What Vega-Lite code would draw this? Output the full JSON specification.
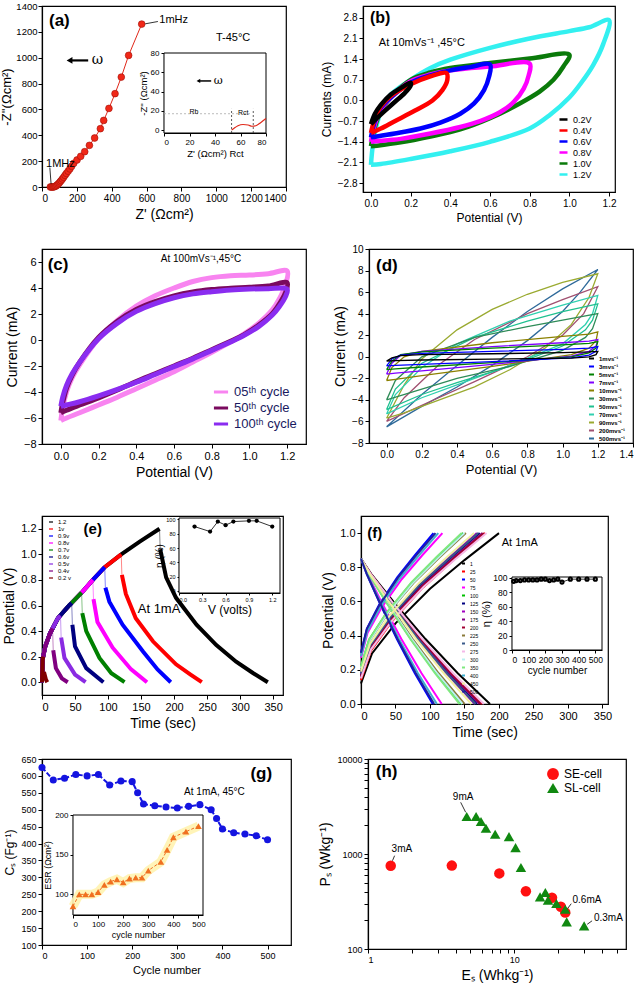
{
"$schema": "https://vega.github.io/schema/vega-lite/v6.json",
"padding": {"left": 0, "top": 0, "right": 0, "bottom": 0},
"config": {
 "font": "Liberation Sans",
 "view": {"stroke": "#000000", "strokeWidth": 1.2},
 "axis": {"grid": false, "domainColor": "#000", "domainWidth": 1.2, "tickColor": "#000", "tickSize": 4, "labelColor": "#000", "titleColor": "#000", "labelFontSize": 10, "titleFontSize": 13, "titleFontWeight": "normal", "labelPadding": 2, "titlePadding": 4, "labelOverlap": false, "tickCount": 40},
 "legend": {"labelColor": "#000"}
},
"resolve": {"scale": {"color": "independent", "shape": "independent"}, "legend": {"color": "independent", "shape": "independent"}},
"datasets": {
 "nyq": [{"x":48,"y":0},{"x":55,"y":0},{"x":62,"y":0},{"x":68,"y":1},{"x":74,"y":4},{"x":80,"y":8},{"x":86,"y":14},{"x":92,"y":22},{"x":98,"y":30},{"x":104,"y":40},{"x":110,"y":50},{"x":117,"y":62},{"x":124,"y":75},{"x":132,"y":90},{"x":140,"y":105},{"x":150,"y":122},{"x":160,"y":140},{"x":170,"y":160},{"x":182,"y":183},{"x":201,"y":209},{"x":222,"y":237},{"x":245,"y":273},{"x":272,"y":322},{"x":302,"y":379},{"x":335,"y":451},{"x":354,"y":515},{"x":384,"y":608},{"x":419,"y":722},{"x":455,"y":850},{"x":497,"y":1018},{"x":572,"y":1260}],
 "b": [
  {"s":"1.2V","x":0,"y":-2.18},{"s":"1.2V","x":0.01,"y":-1.5},{"s":"1.2V","x":0.03,"y":-0.8},{"s":"1.2V","x":0.06,"y":-0.2},{"s":"1.2V","x":0.1,"y":0.2},{"s":"1.2V","x":0.2,"y":0.7},{"s":"1.2V","x":0.3,"y":1.1},{"s":"1.2V","x":0.4,"y":1.38},{"s":"1.2V","x":0.6,"y":1.78},{"s":"1.2V","x":0.8,"y":2.1},{"s":"1.2V","x":1.0,"y":2.35},{"s":"1.2V","x":1.1,"y":2.48},{"s":"1.2V","x":1.2,"y":2.72},{"s":"1.2V","x":1.17,"y":1.9},{"s":"1.2V","x":1.12,"y":1.2},{"s":"1.2V","x":1.06,"y":0.6},{"s":"1.2V","x":1.0,"y":0.1},{"s":"1.2V","x":0.9,"y":-0.5},{"s":"1.2V","x":0.8,"y":-0.95},{"s":"1.2V","x":0.6,"y":-1.4},{"s":"1.2V","x":0.4,"y":-1.72},{"s":"1.2V","x":0.2,"y":-1.98},{"s":"1.2V","x":0.05,"y":-2.15},{"s":"1.2V","x":0,"y":-2.18},
  {"s":"1.0V","x":0,"y":-1.55},{"s":"1.0V","x":0.02,"y":-0.9},{"s":"1.0V","x":0.05,"y":-0.35},{"s":"1.0V","x":0.1,"y":0.1},{"s":"1.0V","x":0.2,"y":0.7},{"s":"1.0V","x":0.3,"y":0.95},{"s":"1.0V","x":0.4,"y":1.1},{"s":"1.0V","x":0.6,"y":1.27},{"s":"1.0V","x":0.8,"y":1.42},{"s":"1.0V","x":1.0,"y":1.55},{"s":"1.0V","x":0.97,"y":1.15},{"s":"1.0V","x":0.92,"y":0.7},{"s":"1.0V","x":0.85,"y":0.3},{"s":"1.0V","x":0.75,"y":-0.1},{"s":"1.0V","x":0.6,"y":-0.6},{"s":"1.0V","x":0.45,"y":-0.98},{"s":"1.0V","x":0.3,"y":-1.22},{"s":"1.0V","x":0.15,"y":-1.42},{"s":"1.0V","x":0.03,"y":-1.53},{"s":"1.0V","x":0,"y":-1.55},
  {"s":"0.8V","x":0,"y":-1.4},{"s":"0.8V","x":0.02,"y":-0.8},{"s":"0.8V","x":0.05,"y":-0.3},{"s":"0.8V","x":0.1,"y":0.1},{"s":"0.8V","x":0.2,"y":0.65},{"s":"0.8V","x":0.3,"y":0.88},{"s":"0.8V","x":0.4,"y":1.02},{"s":"0.8V","x":0.6,"y":1.15},{"s":"0.8V","x":0.8,"y":1.25},{"s":"0.8V","x":0.795,"y":0.85},{"s":"0.8V","x":0.77,"y":0.4},{"s":"0.8V","x":0.72,"y":-0.05},{"s":"0.8V","x":0.65,"y":-0.4},{"s":"0.8V","x":0.55,"y":-0.7},{"s":"0.8V","x":0.45,"y":-0.9},{"s":"0.8V","x":0.3,"y":-1.12},{"s":"0.8V","x":0.15,"y":-1.3},{"s":"0.8V","x":0.03,"y":-1.38},{"s":"0.8V","x":0,"y":-1.4},
  {"s":"0.6V","x":0,"y":-1.25},{"s":"0.6V","x":0.02,"y":-0.7},{"s":"0.6V","x":0.05,"y":-0.25},{"s":"0.6V","x":0.1,"y":0.1},{"s":"0.6V","x":0.2,"y":0.6},{"s":"0.6V","x":0.3,"y":0.85},{"s":"0.6V","x":0.4,"y":1.02},{"s":"0.6V","x":0.5,"y":1.13},{"s":"0.6V","x":0.6,"y":1.22},{"s":"0.6V","x":0.595,"y":0.8},{"s":"0.6V","x":0.57,"y":0.35},{"s":"0.6V","x":0.52,"y":-0.1},{"s":"0.6V","x":0.45,"y":-0.45},{"s":"0.6V","x":0.35,"y":-0.75},{"s":"0.6V","x":0.25,"y":-0.95},{"s":"0.6V","x":0.12,"y":-1.12},{"s":"0.6V","x":0.03,"y":-1.22},{"s":"0.6V","x":0,"y":-1.25},
  {"s":"0.4V","x":0,"y":-1.1},{"s":"0.4V","x":0.02,"y":-0.6},{"s":"0.4V","x":0.05,"y":-0.2},{"s":"0.4V","x":0.1,"y":0.15},{"s":"0.4V","x":0.2,"y":0.55},{"s":"0.4V","x":0.3,"y":0.82},{"s":"0.4V","x":0.38,"y":0.93},{"s":"0.4V","x":0.385,"y":0.7},{"s":"0.4V","x":0.36,"y":0.35},{"s":"0.4V","x":0.31,"y":0.0},{"s":"0.4V","x":0.22,"y":-0.35},{"s":"0.4V","x":0.12,"y":-0.7},{"s":"0.4V","x":0.05,"y":-0.95},{"s":"0.4V","x":0,"y":-1.1},
  {"s":"0.2V","x":0,"y":-0.8},{"s":"0.2V","x":0.02,"y":-0.45},{"s":"0.2V","x":0.05,"y":-0.15},{"s":"0.2V","x":0.1,"y":0.2},{"s":"0.2V","x":0.15,"y":0.42},{"s":"0.2V","x":0.2,"y":0.6},{"s":"0.2V","x":0.2,"y":0.5},{"s":"0.2V","x":0.17,"y":0.25},{"s":"0.2V","x":0.12,"y":-0.05},{"s":"0.2V","x":0.07,"y":-0.35},{"s":"0.2V","x":0.03,"y":-0.6},{"s":"0.2V","x":0,"y":-0.8}
 ],
 "c": [
  {"s":"05","x":0,"y":-6.2},{"s":"05","x":0.01,"y":-5.2},{"s":"05","x":0.03,"y":-4.0},{"s":"05","x":0.06,"y":-2.9},{"s":"05","x":0.1,"y":-1.9},{"s":"05","x":0.2,"y":0.1},{"s":"05","x":0.3,"y":1.5},{"s":"05","x":0.4,"y":2.6},{"s":"05","x":0.5,"y":3.4},{"s":"05","x":0.6,"y":4.0},{"s":"05","x":0.7,"y":4.5},{"s":"05","x":0.8,"y":4.8},{"s":"05","x":0.9,"y":4.95},{"s":"05","x":1.0,"y":5.0},{"s":"05","x":1.1,"y":5.1},{"s":"05","x":1.2,"y":5.3},{"s":"05","x":1.19,"y":4.2},{"s":"05","x":1.16,"y":3.2},{"s":"05","x":1.12,"y":2.3},{"s":"05","x":1.05,"y":1.3},{"s":"05","x":0.97,"y":0.45},{"s":"05","x":0.9,"y":-0.15},{"s":"05","x":0.8,"y":-0.95},{"s":"05","x":0.7,"y":-1.7},{"s":"05","x":0.6,"y":-2.45},{"s":"05","x":0.5,"y":-3.1},{"s":"05","x":0.4,"y":-3.75},{"s":"05","x":0.3,"y":-4.4},{"s":"05","x":0.2,"y":-5.0},{"s":"05","x":0.1,"y":-5.6},{"s":"05","x":0.03,"y":-6.0},{"s":"05","x":0,"y":-6.2},
  {"s":"50","x":0,"y":-5.6},{"s":"50","x":0.01,"y":-4.8},{"s":"50","x":0.03,"y":-3.7},{"s":"50","x":0.06,"y":-2.7},{"s":"50","x":0.1,"y":-1.7},{"s":"50","x":0.2,"y":0.2},{"s":"50","x":0.3,"y":1.45},{"s":"50","x":0.4,"y":2.35},{"s":"50","x":0.5,"y":2.95},{"s":"50","x":0.6,"y":3.4},{"s":"50","x":0.7,"y":3.7},{"s":"50","x":0.8,"y":3.88},{"s":"50","x":0.9,"y":3.98},{"s":"50","x":1.0,"y":4.05},{"s":"50","x":1.1,"y":4.15},{"s":"50","x":1.2,"y":4.4},{"s":"50","x":1.19,"y":3.6},{"s":"50","x":1.16,"y":2.8},{"s":"50","x":1.12,"y":2.0},{"s":"50","x":1.05,"y":1.15},{"s":"50","x":0.97,"y":0.4},{"s":"50","x":0.9,"y":-0.1},{"s":"50","x":0.8,"y":-0.75},{"s":"50","x":0.7,"y":-1.4},{"s":"50","x":0.6,"y":-2.0},{"s":"50","x":0.5,"y":-2.6},{"s":"50","x":0.4,"y":-3.2},{"s":"50","x":0.3,"y":-3.85},{"s":"50","x":0.2,"y":-4.45},{"s":"50","x":0.1,"y":-5.0},{"s":"50","x":0.03,"y":-5.4},{"s":"50","x":0,"y":-5.6},
  {"s":"100","x":0,"y":-5.1},{"s":"100","x":0.01,"y":-4.4},{"s":"100","x":0.03,"y":-3.5},{"s":"100","x":0.06,"y":-2.6},{"s":"100","x":0.1,"y":-1.7},{"s":"100","x":0.2,"y":0.1},{"s":"100","x":0.3,"y":1.3},{"s":"100","x":0.4,"y":2.2},{"s":"100","x":0.5,"y":2.8},{"s":"100","x":0.6,"y":3.25},{"s":"100","x":0.7,"y":3.55},{"s":"100","x":0.8,"y":3.72},{"s":"100","x":0.9,"y":3.85},{"s":"100","x":1.0,"y":3.92},{"s":"100","x":1.1,"y":3.95},{"s":"100","x":1.2,"y":3.9},{"s":"100","x":1.19,"y":3.3},{"s":"100","x":1.16,"y":2.6},{"s":"100","x":1.12,"y":1.9},{"s":"100","x":1.05,"y":1.05},{"s":"100","x":0.97,"y":0.35},{"s":"100","x":0.9,"y":-0.15},{"s":"100","x":0.8,"y":-0.8},{"s":"100","x":0.7,"y":-1.45},{"s":"100","x":0.6,"y":-2.05},{"s":"100","x":0.5,"y":-2.65},{"s":"100","x":0.4,"y":-3.25},{"s":"100","x":0.3,"y":-3.8},{"s":"100","x":0.2,"y":-4.3},{"s":"100","x":0.1,"y":-4.75},{"s":"100","x":0.03,"y":-5.0},{"s":"100","x":0,"y":-5.1}
 ],
 "d": [
  {"s":"500","x":0,"y":-6.5},{"s":"500","x":0.2,"y":-3.5},{"s":"500","x":0.4,"y":-0.8},{"s":"500","x":0.6,"y":1.8},{"s":"500","x":0.8,"y":4.2},{"s":"500","x":1.0,"y":6.3},{"s":"500","x":1.2,"y":8.1},{"s":"500","x":1.1,"y":6.0},{"s":"500","x":1.0,"y":4.2},{"s":"500","x":0.8,"y":1.5},{"s":"500","x":0.6,"y":-0.8},{"s":"500","x":0.4,"y":-2.8},{"s":"500","x":0.2,"y":-4.6},{"s":"500","x":0,"y":-6.5},
  {"s":"200","x":0,"y":-6.0},{"s":"200","x":0.1,"y":-3.8},{"s":"200","x":0.3,"y":-0.7},{"s":"200","x":0.5,"y":1.6},{"s":"200","x":0.8,"y":4.0},{"s":"200","x":1.0,"y":5.3},{"s":"200","x":1.2,"y":6.5},{"s":"200","x":1.12,"y":4.0},{"s":"200","x":1.0,"y":2.0},{"s":"200","x":0.8,"y":0.0},{"s":"200","x":0.5,"y":-2.3},{"s":"200","x":0.2,"y":-4.5},{"s":"200","x":0,"y":-6.0},
  {"s":"90","x":0,"y":-5.7},{"s":"90","x":0.1,"y":-2.6},{"s":"90","x":0.2,"y":-0.2},{"s":"90","x":0.4,"y":2.5},{"s":"90","x":0.6,"y":4.4},{"s":"90","x":0.8,"y":5.8},{"s":"90","x":1.0,"y":6.9},{"s":"90","x":1.2,"y":7.7},{"s":"90","x":1.15,"y":5.5},{"s":"90","x":1.05,"y":3.0},{"s":"90","x":0.9,"y":0.8},{"s":"90","x":0.7,"y":-1.2},{"s":"90","x":0.5,"y":-2.8},{"s":"90","x":0.3,"y":-4.0},{"s":"90","x":0.1,"y":-5.2},{"s":"90","x":0,"y":-5.7},
  {"s":"70","x":0,"y":-5.3},{"s":"70","x":0.05,"y":-3.5},{"s":"70","x":0.2,"y":-1.0},{"s":"70","x":0.4,"y":1.2},{"s":"70","x":0.7,"y":3.3},{"s":"70","x":1.0,"y":4.8},{"s":"70","x":1.2,"y":5.7},{"s":"70","x":1.17,"y":4.0},{"s":"70","x":1.13,"y":3.0},{"s":"70","x":1.0,"y":1.2},{"s":"70","x":0.7,"y":-0.8},{"s":"70","x":0.4,"y":-2.6},{"s":"70","x":0.2,"y":-3.8},{"s":"70","x":0,"y":-5.3},
  {"s":"50","x":0,"y":-4.9},{"s":"50","x":0.05,"y":-3.0},{"s":"50","x":0.2,"y":-0.6},{"s":"50","x":0.5,"y":1.8},{"s":"50","x":0.8,"y":3.3},{"s":"50","x":1.0,"y":4.2},{"s":"50","x":1.2,"y":4.9},{"s":"50","x":1.17,"y":3.4},{"s":"50","x":1.13,"y":2.5},{"s":"50","x":1.0,"y":1.0},{"s":"50","x":0.7,"y":-0.9},{"s":"50","x":0.4,"y":-2.4},{"s":"50","x":0.2,"y":-3.5},{"s":"50","x":0,"y":-4.9},
  {"s":"30","x":0,"y":-4.0},{"s":"30","x":0.05,"y":-2.2},{"s":"30","x":0.2,"y":0.0},{"s":"30","x":0.5,"y":1.8},{"s":"30","x":0.8,"y":2.8},{"s":"30","x":1.0,"y":3.4},{"s":"30","x":1.2,"y":4.0},{"s":"30","x":1.17,"y":2.6},{"s":"30","x":1.13,"y":1.8},{"s":"30","x":1.0,"y":0.6},{"s":"30","x":0.7,"y":-0.9},{"s":"30","x":0.4,"y":-2.0},{"s":"30","x":0.2,"y":-3.0},{"s":"30","x":0,"y":-4.0},
  {"s":"10","x":0,"y":-2.2},{"s":"10","x":0.03,"y":-1.0},{"s":"10","x":0.1,"y":0.0},{"s":"10","x":0.2,"y":0.5},{"s":"10","x":0.6,"y":1.3},{"s":"10","x":1.0,"y":1.9},{"s":"10","x":1.15,"y":2.1},{"s":"10","x":1.2,"y":2.3},{"s":"10","x":1.19,"y":1.5},{"s":"10","x":1.15,"y":0.8},{"s":"10","x":1.05,"y":0.2},{"s":"10","x":0.6,"y":-0.9},{"s":"10","x":0.2,"y":-1.75},{"s":"10","x":0.05,"y":-2.1},{"s":"10","x":0,"y":-2.2},
  {"s":"7","x":0,"y":-1.6},{"s":"7","x":0.03,"y":-0.6},{"s":"7","x":0.08,"y":0.15},{"s":"7","x":0.2,"y":0.5},{"s":"7","x":0.6,"y":0.95},{"s":"7","x":1.0,"y":1.3},{"s":"7","x":1.15,"y":1.45},{"s":"7","x":1.2,"y":1.6},{"s":"7","x":1.19,"y":1.0},{"s":"7","x":1.15,"y":0.5},{"s":"7","x":1.05,"y":0.05},{"s":"7","x":0.6,"y":-0.7},{"s":"7","x":0.2,"y":-1.3},{"s":"7","x":0.05,"y":-1.52},{"s":"7","x":0,"y":-1.6},
  {"s":"5","x":0,"y":-1.2},{"s":"5","x":0.03,"y":-0.4},{"s":"5","x":0.08,"y":0.2},{"s":"5","x":0.2,"y":0.45},{"s":"5","x":0.6,"y":0.8},{"s":"5","x":1.0,"y":1.1},{"s":"5","x":1.15,"y":1.25},{"s":"5","x":1.2,"y":1.4},{"s":"5","x":1.19,"y":0.8},{"s":"5","x":1.15,"y":0.35},{"s":"5","x":1.05,"y":0.0},{"s":"5","x":0.6,"y":-0.55},{"s":"5","x":0.2,"y":-0.95},{"s":"5","x":0.05,"y":-1.12},{"s":"5","x":0,"y":-1.2},
  {"s":"3","x":0,"y":-0.85},{"s":"3","x":0.03,"y":-0.2},{"s":"3","x":0.08,"y":0.15},{"s":"3","x":0.2,"y":0.32},{"s":"3","x":0.6,"y":0.5},{"s":"3","x":1.0,"y":0.68},{"s":"3","x":1.15,"y":0.8},{"s":"3","x":1.2,"y":0.95},{"s":"3","x":1.19,"y":0.5},{"s":"3","x":1.15,"y":0.15},{"s":"3","x":1.05,"y":-0.1},{"s":"3","x":0.6,"y":-0.45},{"s":"3","x":0.2,"y":-0.7},{"s":"3","x":0.05,"y":-0.8},{"s":"3","x":0,"y":-0.85},
  {"s":"1","x":0,"y":-0.4},{"s":"1","x":0.03,"y":-0.1},{"s":"1","x":0.08,"y":0.1},{"s":"1","x":0.2,"y":0.2},{"s":"1","x":0.6,"y":0.28},{"s":"1","x":1.0,"y":0.38},{"s":"1","x":1.15,"y":0.45},{"s":"1","x":1.2,"y":0.5},{"s":"1","x":1.19,"y":0.2},{"s":"1","x":1.15,"y":0.0},{"s":"1","x":1.05,"y":-0.12},{"s":"1","x":0.6,"y":-0.22},{"s":"1","x":0.2,"y":-0.3},{"s":"1","x":0.05,"y":-0.35},{"s":"1","x":0,"y":-0.4}
 ],
 "e": [
  {"s":"1.2","g":"c","t":0,"v":0},{"s":"1.2","g":"c","t":1,"v":0.18},{"s":"1.2","g":"c","t":5,"v":0.28},{"s":"1.2","g":"c","t":12,"v":0.38},{"s":"1.2","g":"c","t":24,"v":0.5},{"s":"1.2","g":"c","t":41,"v":0.6},{"s":"1.2","g":"c","t":60,"v":0.7},{"s":"1.2","g":"c","t":77,"v":0.8},{"s":"1.2","g":"c","t":95,"v":0.9},{"s":"1.2","g":"c","t":120,"v":1.0},{"s":"1.2","g":"c","t":148,"v":1.1},{"s":"1.2","g":"c","t":178,"v":1.2},
  {"s":"1.2","g":"j","t":178,"v":1.2},{"s":"1.2","g":"j","t":179,"v":1.04},
  {"s":"1.2","g":"d","t":179,"v":1.04},{"s":"1.2","g":"d","t":188,"v":0.82},{"s":"1.2","g":"d","t":203,"v":0.66},{"s":"1.2","g":"d","t":234,"v":0.45},{"s":"1.2","g":"d","t":264,"v":0.29},{"s":"1.2","g":"d","t":294,"v":0.16},{"s":"1.2","g":"d","t":320,"v":0.07},{"s":"1.2","g":"d","t":342,"v":0},
  {"s":"1v","g":"c","t":0,"v":0},{"s":"1v","g":"c","t":1,"v":0.18},{"s":"1v","g":"c","t":5,"v":0.28},{"s":"1v","g":"c","t":12,"v":0.38},{"s":"1v","g":"c","t":24,"v":0.5},{"s":"1v","g":"c","t":41,"v":0.6},{"s":"1v","g":"c","t":60,"v":0.7},{"s":"1v","g":"c","t":77,"v":0.8},{"s":"1v","g":"c","t":95,"v":0.9},{"s":"1v","g":"c","t":120,"v":1.0},
  {"s":"1v","g":"j","t":120,"v":1.0},{"s":"1v","g":"j","t":121,"v":0.84},
  {"s":"1v","g":"d","t":121,"v":0.84},{"s":"1v","g":"d","t":127,"v":0.69},{"s":"1v","g":"d","t":142,"v":0.5},{"s":"1v","g":"d","t":168,"v":0.32},{"s":"1v","g":"d","t":203,"v":0.14},{"s":"1v","g":"d","t":225,"v":0.06},{"s":"1v","g":"d","t":242,"v":0},
  {"s":"0.9v","g":"c","t":0,"v":0},{"s":"0.9v","g":"c","t":1,"v":0.18},{"s":"0.9v","g":"c","t":5,"v":0.28},{"s":"0.9v","g":"c","t":12,"v":0.38},{"s":"0.9v","g":"c","t":24,"v":0.5},{"s":"0.9v","g":"c","t":41,"v":0.6},{"s":"0.9v","g":"c","t":60,"v":0.7},{"s":"0.9v","g":"c","t":77,"v":0.8},{"s":"0.9v","g":"c","t":95,"v":0.9},
  {"s":"0.9v","g":"j","t":95,"v":0.9},{"s":"0.9v","g":"j","t":96,"v":0.74},
  {"s":"0.9v","g":"d","t":96,"v":0.74},{"s":"0.9v","g":"d","t":102,"v":0.63},{"s":"0.9v","g":"d","t":122,"v":0.45},{"s":"0.9v","g":"d","t":153,"v":0.24},{"s":"0.9v","g":"d","t":175,"v":0.1},{"s":"0.9v","g":"d","t":195,"v":0},
  {"s":"0.8v","g":"c","t":0,"v":0},{"s":"0.8v","g":"c","t":1,"v":0.18},{"s":"0.8v","g":"c","t":5,"v":0.28},{"s":"0.8v","g":"c","t":12,"v":0.38},{"s":"0.8v","g":"c","t":24,"v":0.5},{"s":"0.8v","g":"c","t":41,"v":0.6},{"s":"0.8v","g":"c","t":60,"v":0.7},{"s":"0.8v","g":"c","t":77,"v":0.8},
  {"s":"0.8v","g":"j","t":77,"v":0.8},{"s":"0.8v","g":"j","t":78,"v":0.65},
  {"s":"0.8v","g":"d","t":78,"v":0.65},{"s":"0.8v","g":"d","t":84,"v":0.47},{"s":"0.8v","g":"d","t":107,"v":0.27},{"s":"0.8v","g":"d","t":135,"v":0.1},{"s":"0.8v","g":"d","t":159,"v":0},
  {"s":"0.7v","g":"c","t":0,"v":0},{"s":"0.7v","g":"c","t":1,"v":0.18},{"s":"0.7v","g":"c","t":5,"v":0.28},{"s":"0.7v","g":"c","t":12,"v":0.38},{"s":"0.7v","g":"c","t":24,"v":0.5},{"s":"0.7v","g":"c","t":41,"v":0.6},{"s":"0.7v","g":"c","t":60,"v":0.7},
  {"s":"0.7v","g":"j","t":60,"v":0.7},{"s":"0.7v","g":"j","t":61,"v":0.54},
  {"s":"0.7v","g":"d","t":61,"v":0.54},{"s":"0.7v","g":"d","t":67,"v":0.4},{"s":"0.7v","g":"d","t":87,"v":0.19},{"s":"0.7v","g":"d","t":105,"v":0.07},{"s":"0.7v","g":"d","t":125,"v":0},
  {"s":"0.6v","g":"c","t":0,"v":0},{"s":"0.6v","g":"c","t":1,"v":0.18},{"s":"0.6v","g":"c","t":5,"v":0.28},{"s":"0.6v","g":"c","t":12,"v":0.38},{"s":"0.6v","g":"c","t":24,"v":0.5},{"s":"0.6v","g":"c","t":41,"v":0.6},{"s":"0.6v","g":"c","t":45,"v":0.62},
  {"s":"0.6v","g":"j","t":45,"v":0.62},{"s":"0.6v","g":"j","t":46,"v":0.45},
  {"s":"0.6v","g":"d","t":46,"v":0.45},{"s":"0.6v","g":"d","t":50,"v":0.28},{"s":"0.6v","g":"d","t":67,"v":0.11},{"s":"0.6v","g":"d","t":93,"v":0},
  {"s":"0.5v","g":"c","t":0,"v":0},{"s":"0.5v","g":"c","t":1,"v":0.18},{"s":"0.5v","g":"c","t":5,"v":0.28},{"s":"0.5v","g":"c","t":12,"v":0.38},{"s":"0.5v","g":"c","t":24,"v":0.5},{"s":"0.5v","g":"c","t":28,"v":0.52},
  {"s":"0.5v","g":"j","t":28,"v":0.52},{"s":"0.5v","g":"j","t":29,"v":0.35},
  {"s":"0.5v","g":"d","t":29,"v":0.35},{"s":"0.5v","g":"d","t":34,"v":0.19},{"s":"0.5v","g":"d","t":50,"v":0.06},{"s":"0.5v","g":"d","t":66,"v":0},
  {"s":"0.4v","g":"c","t":0,"v":0},{"s":"0.4v","g":"c","t":1,"v":0.18},{"s":"0.4v","g":"c","t":5,"v":0.28},{"s":"0.4v","g":"c","t":12,"v":0.38},{"s":"0.4v","g":"c","t":16,"v":0.42},
  {"s":"0.4v","g":"j","t":16,"v":0.42},{"s":"0.4v","g":"j","t":17,"v":0.25},
  {"s":"0.4v","g":"d","t":17,"v":0.25},{"s":"0.4v","g":"d","t":21,"v":0.11},{"s":"0.4v","g":"d","t":30,"v":0.03},{"s":"0.4v","g":"d","t":39,"v":0},
  {"s":"0.2 v","g":"c","t":0,"v":0},{"s":"0.2 v","g":"c","t":1,"v":0.18},{"s":"0.2 v","g":"c","t":2,"v":0.2},
  {"s":"0.2 v","g":"j","t":2,"v":0.2},{"s":"0.2 v","g":"j","t":3,"v":0.08},
  {"s":"0.2 v","g":"d","t":3,"v":0.08},{"s":"0.2 v","g":"d","t":6,"v":0.02},{"s":"0.2 v","g":"d","t":8,"v":0}
 ],
 "f": [
  {"c":"1","p":"c","t":0,"v":0.12},{"c":"1","p":"c","t":16,"v":0.296},{"c":"1","p":"c","t":50,"v":0.472},{"c":"1","p":"c","t":100,"v":0.674},{"c":"1","p":"c","t":150,"v":0.842},{"c":"1","p":"c","t":200,"v":1},
  {"c":"1","p":"d","t":0,"v":0.85},{"c":"1","p":"d","t":15,"v":0.76},{"c":"1","p":"d","t":46.75,"v":0.6},{"c":"1","p":"d","t":93.5,"v":0.38},{"c":"1","p":"d","t":140.25,"v":0.18},{"c":"1","p":"d","t":187,"v":0},
  {"c":"25","p":"c","t":0,"v":0.14},{"c":"25","p":"c","t":14.4,"v":0.312},{"c":"25","p":"c","t":45,"v":0.484},{"c":"25","p":"c","t":90,"v":0.682},{"c":"25","p":"c","t":135,"v":0.845},{"c":"25","p":"c","t":180,"v":1},
  {"c":"25","p":"d","t":0,"v":0.85},{"c":"25","p":"d","t":14.1,"v":0.76},{"c":"25","p":"d","t":44,"v":0.6},{"c":"25","p":"d","t":88,"v":0.38},{"c":"25","p":"d","t":132,"v":0.18},{"c":"25","p":"d","t":176,"v":0},
  {"c":"50","p":"c","t":0,"v":0.3},{"c":"50","p":"c","t":8.4,"v":0.44},{"c":"50","p":"c","t":26.25,"v":0.58},{"c":"50","p":"c","t":52.5,"v":0.741},{"c":"50","p":"c","t":78.75,"v":0.874},{"c":"50","p":"c","t":105,"v":1},
  {"c":"50","p":"d","t":0,"v":0.85},{"c":"50","p":"d","t":8.3,"v":0.76},{"c":"50","p":"d","t":26,"v":0.6},{"c":"50","p":"d","t":52,"v":0.38},{"c":"50","p":"d","t":78,"v":0.18},{"c":"50","p":"d","t":104,"v":0},
  {"c":"75","p":"c","t":0,"v":0.27},{"c":"75","p":"c","t":9.4,"v":0.416},{"c":"75","p":"c","t":29.5,"v":0.562},{"c":"75","p":"c","t":59,"v":0.73},{"c":"75","p":"c","t":88.5,"v":0.869},{"c":"75","p":"c","t":118,"v":1},
  {"c":"75","p":"d","t":0,"v":0.85},{"c":"75","p":"d","t":9.4,"v":0.76},{"c":"75","p":"d","t":29.25,"v":0.6},{"c":"75","p":"d","t":58.5,"v":0.38},{"c":"75","p":"d","t":87.75,"v":0.18},{"c":"75","p":"d","t":117,"v":0},
  {"c":"100","p":"c","t":0,"v":0.22},{"c":"100","p":"c","t":11.8,"v":0.376},{"c":"100","p":"c","t":37,"v":0.532},{"c":"100","p":"c","t":74,"v":0.711},{"c":"100","p":"c","t":111,"v":0.86},{"c":"100","p":"c","t":148,"v":1},
  {"c":"100","p":"d","t":0,"v":0.85},{"c":"100","p":"d","t":11.6,"v":0.76},{"c":"100","p":"d","t":36.25,"v":0.6},{"c":"100","p":"d","t":72.5,"v":0.38},{"c":"100","p":"d","t":108.75,"v":0.18},{"c":"100","p":"d","t":145,"v":0},
  {"c":"125","p":"c","t":0,"v":0.17},{"c":"125","p":"c","t":13.8,"v":0.336},{"c":"125","p":"c","t":43,"v":0.502},{"c":"125","p":"c","t":86,"v":0.693},{"c":"125","p":"c","t":129,"v":0.851},{"c":"125","p":"c","t":172,"v":1},
  {"c":"125","p":"d","t":0,"v":0.85},{"c":"125","p":"d","t":13.4,"v":0.76},{"c":"125","p":"d","t":42,"v":0.6},{"c":"125","p":"d","t":84,"v":0.38},{"c":"125","p":"d","t":126,"v":0.18},{"c":"125","p":"d","t":168,"v":0},
  {"c":"150","p":"c","t":0,"v":0.18},{"c":"150","p":"c","t":13.4,"v":0.344},{"c":"150","p":"c","t":42,"v":0.508},{"c":"150","p":"c","t":84,"v":0.697},{"c":"150","p":"c","t":126,"v":0.852},{"c":"150","p":"c","t":168,"v":1},
  {"c":"150","p":"d","t":0,"v":0.85},{"c":"150","p":"d","t":13.2,"v":0.76},{"c":"150","p":"d","t":41.25,"v":0.6},{"c":"150","p":"d","t":82.5,"v":0.38},{"c":"150","p":"d","t":123.75,"v":0.18},{"c":"150","p":"d","t":165,"v":0},
  {"c":"175","p":"c","t":0,"v":0.16},{"c":"175","p":"c","t":14.1,"v":0.328},{"c":"175","p":"c","t":44,"v":0.496},{"c":"175","p":"c","t":88,"v":0.689},{"c":"175","p":"c","t":132,"v":0.849},{"c":"175","p":"c","t":176,"v":1},
  {"c":"175","p":"d","t":0,"v":0.85},{"c":"175","p":"d","t":13.8,"v":0.76},{"c":"175","p":"d","t":43,"v":0.6},{"c":"175","p":"d","t":86,"v":0.38},{"c":"175","p":"d","t":129,"v":0.18},{"c":"175","p":"d","t":172,"v":0},
  {"c":"200","p":"c","t":0,"v":0.16},{"c":"200","p":"c","t":14.2,"v":0.328},{"c":"200","p":"c","t":44.5,"v":0.496},{"c":"200","p":"c","t":89,"v":0.689},{"c":"200","p":"c","t":133.5,"v":0.849},{"c":"200","p":"c","t":178,"v":1},
  {"c":"200","p":"d","t":0,"v":0.85},{"c":"200","p":"d","t":13.9,"v":0.76},{"c":"200","p":"d","t":43.5,"v":0.6},{"c":"200","p":"d","t":87,"v":0.38},{"c":"200","p":"d","t":130.5,"v":0.18},{"c":"200","p":"d","t":174,"v":0},
  {"c":"225","p":"c","t":0,"v":0.21},{"c":"225","p":"c","t":12.2,"v":0.368},{"c":"225","p":"c","t":38,"v":0.526},{"c":"225","p":"c","t":76,"v":0.708},{"c":"225","p":"c","t":114,"v":0.858},{"c":"225","p":"c","t":152,"v":1},
  {"c":"225","p":"d","t":0,"v":0.85},{"c":"225","p":"d","t":12,"v":0.76},{"c":"225","p":"d","t":37.5,"v":0.6},{"c":"225","p":"d","t":75,"v":0.38},{"c":"225","p":"d","t":112.5,"v":0.18},{"c":"225","p":"d","t":150,"v":0},
  {"c":"250","p":"c","t":0,"v":0.18},{"c":"250","p":"c","t":13.6,"v":0.344},{"c":"250","p":"c","t":42.5,"v":0.508},{"c":"250","p":"c","t":85,"v":0.697},{"c":"250","p":"c","t":127.5,"v":0.852},{"c":"250","p":"c","t":170,"v":1},
  {"c":"250","p":"d","t":0,"v":0.85},{"c":"250","p":"d","t":13.3,"v":0.76},{"c":"250","p":"d","t":41.5,"v":0.6},{"c":"250","p":"d","t":83,"v":0.38},{"c":"250","p":"d","t":124.5,"v":0.18},{"c":"250","p":"d","t":166,"v":0},
  {"c":"275","p":"c","t":0,"v":0.15},{"c":"275","p":"c","t":14.6,"v":0.32},{"c":"275","p":"c","t":45.5,"v":0.49},{"c":"275","p":"c","t":91,"v":0.686},{"c":"275","p":"c","t":136.5,"v":0.847},{"c":"275","p":"c","t":182,"v":1},
  {"c":"275","p":"d","t":0,"v":0.85},{"c":"275","p":"d","t":14.2,"v":0.76},{"c":"275","p":"d","t":44.5,"v":0.6},{"c":"275","p":"d","t":89,"v":0.38},{"c":"275","p":"d","t":133.5,"v":0.18},{"c":"275","p":"d","t":178,"v":0},
  {"c":"300","p":"c","t":0,"v":0.21},{"c":"300","p":"c","t":12,"v":0.368},{"c":"300","p":"c","t":37.5,"v":0.526},{"c":"300","p":"c","t":75,"v":0.708},{"c":"300","p":"c","t":112.5,"v":0.858},{"c":"300","p":"c","t":150,"v":1},
  {"c":"300","p":"d","t":0,"v":0.85},{"c":"300","p":"d","t":11.8,"v":0.76},{"c":"300","p":"d","t":36.75,"v":0.6},{"c":"300","p":"d","t":73.5,"v":0.38},{"c":"300","p":"d","t":110.25,"v":0.18},{"c":"300","p":"d","t":147,"v":0},
  {"c":"350","p":"c","t":0,"v":0.22},{"c":"350","p":"c","t":11.7,"v":0.376},{"c":"350","p":"c","t":36.5,"v":0.532},{"c":"350","p":"c","t":73,"v":0.711},{"c":"350","p":"c","t":109.5,"v":0.86},{"c":"350","p":"c","t":146,"v":1},
  {"c":"350","p":"d","t":0,"v":0.85},{"c":"350","p":"d","t":11.4,"v":0.76},{"c":"350","p":"d","t":35.75,"v":0.6},{"c":"350","p":"d","t":71.5,"v":0.38},{"c":"350","p":"d","t":107.25,"v":0.18},{"c":"350","p":"d","t":143,"v":0},
  {"c":"400","p":"c","t":0,"v":0.28},{"c":"400","p":"c","t":9,"v":0.424},{"c":"400","p":"c","t":28,"v":0.568},{"c":"400","p":"c","t":56,"v":0.734},{"c":"400","p":"c","t":84,"v":0.87},{"c":"400","p":"c","t":112,"v":1},
  {"c":"400","p":"d","t":0,"v":0.85},{"c":"400","p":"d","t":8.8,"v":0.76},{"c":"400","p":"d","t":27.5,"v":0.6},{"c":"400","p":"d","t":55,"v":0.38},{"c":"400","p":"d","t":82.5,"v":0.18},{"c":"400","p":"d","t":110,"v":0},
  {"c":"450","p":"c","t":0,"v":0.19},{"c":"450","p":"c","t":13.1,"v":0.352},{"c":"450","p":"c","t":41,"v":0.514},{"c":"450","p":"c","t":82,"v":0.7},{"c":"450","p":"c","t":123,"v":0.854},{"c":"450","p":"c","t":164,"v":1},
  {"c":"450","p":"d","t":0,"v":0.85},{"c":"450","p":"d","t":12.8,"v":0.76},{"c":"450","p":"d","t":40,"v":0.6},{"c":"450","p":"d","t":80,"v":0.38},{"c":"450","p":"d","t":120,"v":0.18},{"c":"450","p":"d","t":160,"v":0},
  {"c":"500","p":"c","t":0,"v":0.3},{"c":"500","p":"c","t":8.6,"v":0.44},{"c":"500","p":"c","t":27,"v":0.58},{"c":"500","p":"c","t":54,"v":0.741},{"c":"500","p":"c","t":81,"v":0.874},{"c":"500","p":"c","t":108,"v":1},
  {"c":"500","p":"d","t":0,"v":0.85},{"c":"500","p":"d","t":8.5,"v":0.76},{"c":"500","p":"d","t":26.5,"v":0.6},{"c":"500","p":"d","t":53,"v":0.38},{"c":"500","p":"d","t":79.5,"v":0.18},{"c":"500","p":"d","t":106,"v":0}
 ],
 "g": [{"x":0,"y":625},{"x":25,"y":588},{"x":50,"y":593},{"x":75,"y":604},{"x":100,"y":600},{"x":125,"y":604},{"x":150,"y":573},{"x":175,"y":585},{"x":200,"y":583},{"x":212,"y":550},{"x":225,"y":517},{"x":250,"y":512},{"x":275,"y":508},{"x":300,"y":505},{"x":325,"y":510},{"x":350,"y":515},{"x":375,"y":500},{"x":387,"y":474},{"x":400,"y":443},{"x":425,"y":432},{"x":450,"y":428},{"x":475,"y":423},{"x":500,"y":411}],
 "gi": [{"x":0,"y":85},{"x":25,"y":100},{"x":50,"y":100},{"x":75,"y":100},{"x":100,"y":103},{"x":125,"y":112},{"x":150,"y":116},{"x":175,"y":119},{"x":200,"y":115},{"x":225,"y":120},{"x":250,"y":121},{"x":275,"y":121},{"x":300,"y":130},{"x":350,"y":141},{"x":375,"y":156},{"x":400,"y":172},{"x":450,"y":179},{"x":500,"y":186}],
 "h": [{"c":"SE-cell","x":1.43,"y":753},{"c":"SE-cell","x":3.74,"y":755},{"c":"SE-cell","x":7.9,"y":625},{"c":"SE-cell","x":12.0,"y":406},{"c":"SE-cell","x":18.1,"y":346},{"c":"SE-cell","x":20.8,"y":278},{"c":"SE-cell","x":22.3,"y":242},
  {"c":"SL-cell","x":4.73,"y":2478},{"c":"SL-cell","x":5.48,"y":2478},{"c":"SL-cell","x":5.92,"y":2198},{"c":"SL-cell","x":6.4,"y":1867},{"c":"SL-cell","x":7.4,"y":1614},{"c":"SL-cell","x":9.2,"y":1525},{"c":"SL-cell","x":10.2,"y":1167},{"c":"SL-cell","x":11.1,"y":722},{"c":"SL-cell","x":15.0,"y":354},{"c":"SL-cell","x":16.3,"y":394},{"c":"SL-cell","x":17.0,"y":326},{"c":"SL-cell","x":19.4,"y":301},{"c":"SL-cell","x":22.3,"y":262},{"c":"SL-cell","x":22.8,"y":193},{"c":"SL-cell","x":30.0,"y":175}]
},
"concat": [
 {"concat": [
  {"hconcat": [
   {"width": 244, "height": 181,
    "layer": [
     {"layer": [
      {"data": {"name": "nyq"}, "mark": {"type": "line", "color": "#e0281a", "strokeWidth": 1},
       "encoding": {
        "x": {"field": "x", "type": "quantitative", "scale": {"domain": [0, 1400], "nice": false}, "axis": {"values": [0,200,400,600,800,1000,1200,1400], "tickCount": 40, "format": "d", "title": "Z' (Ωcm²)", "labelFontSize": 10, "titleFontSize": 14}},
        "y": {"field": "y", "type": "quantitative", "scale": {"domain": [0, 1400], "nice": false}, "axis": {"values": [0,200,400,600,800,1000,1200,1400], "tickCount": 40, "format": "d", "title": "-Z''(Ωcm²)", "labelFontSize": 9.5, "titleFontSize": 13, "labelPadding": 1, "titlePadding": 2}}}},
      {"data": {"name": "nyq"}, "mark": {"type": "point", "filled": true, "size": 46, "color": "#f02818", "stroke": "#a01008", "strokeWidth": 0.6, "opacity": 1},
       "encoding": {"x": {"field": "x", "type": "quantitative"}, "y": {"field": "y", "type": "quantitative"}}},
      {"data": {"values": [{"x": 40, "y": 1283, "t": "(a)"}]}, "mark": {"type": "text", "fontWeight": "bold", "fontSize": 17, "align": "left", "baseline": "middle"},
       "encoding": {"x": {"field": "x", "type": "quantitative"}, "y": {"field": "y", "type": "quantitative"}, "text": {"field": "t"}}},
      {"data": {"values": [{"x": 673, "y": 1289, "t": "1mHz"}, {"x": 998, "y": 1155, "t": "T-45°C"}, {"x": 23, "y": 178, "t": "1MHz"}]}, "mark": {"type": "text", "fontSize": 11, "align": "left", "baseline": "middle"},
       "encoding": {"x": {"field": "x", "type": "quantitative"}, "y": {"field": "y", "type": "quantitative"}, "text": {"field": "t"}}},
      {"data": {"values": [{"x": 285, "y": 979, "t": "ω"}]}, "mark": {"type": "text", "fontSize": 14, "font": "DejaVu Serif", "align": "left", "baseline": "middle"},
       "encoding": {"x": {"field": "x", "type": "quantitative"}, "y": {"field": "y", "type": "quantitative"}, "text": {"field": "t"}}},
      {"data": {"values": [{"x": 265, "y": 979, "x2": 165, "y2": 979}]}, "mark": {"type": "rule", "strokeWidth": 2.2},
       "encoding": {"x": {"field": "x", "type": "quantitative"}, "y": {"field": "y", "type": "quantitative"}, "x2": {"field": "x2"}, "y2": {"field": "y2"}}},
      {"data": {"values": [{"x": 665, "y": 1280, "x2": 592, "y2": 1262}, {"x": 45, "y": 150, "x2": 52, "y2": 25}]}, "mark": {"type": "rule", "strokeWidth": 0.8},
       "encoding": {"x": {"field": "x", "type": "quantitative"}, "y": {"field": "y", "type": "quantitative"}, "x2": {"field": "x2"}, "y2": {"field": "y2"}}},
      {"data": {"values": [{"x": 158, "y": 979}]}, "mark": {"type": "point", "shape": "triangle-left", "filled": true, "size": 45, "color": "#000", "opacity": 1},
       "encoding": {"x": {"field": "x", "type": "quantitative"}, "y": {"field": "y", "type": "quantitative"}}}
     ]},
     {"layer": [
      {"data": {"values": [{"x": 0, "x2": 80, "y": -3, "y2": 80}]}, "mark": {"type": "rect", "fill": "#fff", "stroke": "#000", "strokeWidth": 1},
       "encoding": {
        "x": {"field": "x", "type": "quantitative", "scale": {"domain": [0, 80], "range": [122, 224], "nice": false, "zero": false}, "axis": {"orient": "bottom", "offset": -54, "values": [0,20,40,60,80], "tickCount": 40, "format": "d", "title": "Z' (Ωcm²) Rct", "labelFontSize": 8, "titleFontSize": 9.5, "tickSize": 3, "titlePadding": 2}},
        "x2": {"field": "x2"},
        "y": {"field": "y", "type": "quantitative", "scale": {"domain": [-3, 80], "range": [127, 47], "nice": false, "zero": false}, "axis": {"orient": "left", "offset": -122, "values": [0,20,40,60,80], "tickCount": 40, "format": "d", "title": "-Z'' (Ωcm²)", "labelFontSize": 8, "titleFontSize": 9.5, "tickSize": 3, "titlePadding": 2}},
        "y2": {"field": "y2"}}},
      {"data": {"values": [{"x": 0, "y": 17, "x2": 68, "y2": 17}]}, "mark": {"type": "rule", "color": "#aaa", "strokeDash": [2, 2], "strokeWidth": 0.8},
       "encoding": {"x": {"field": "x", "type": "quantitative"}, "y": {"field": "y", "type": "quantitative"}, "x2": {"field": "x2"}, "y2": {"field": "y2"}}},
      {"data": {"values": [{"x": 53, "y": -3, "x2": 53, "y2": 22}, {"x": 70, "y": -3, "x2": 70, "y2": 22}]}, "mark": {"type": "rule", "color": "#333", "strokeDash": [2, 2], "strokeWidth": 0.8},
       "encoding": {"x": {"field": "x", "type": "quantitative"}, "y": {"field": "y", "type": "quantitative"}, "x2": {"field": "x2"}, "y2": {"field": "y2"}}},
      {"data": {"values": [{"x": 53, "y": 0}, {"x": 55, "y": 2}, {"x": 58, "y": 4.5}, {"x": 62, "y": 5.8}, {"x": 66, "y": 5.3}, {"x": 69, "y": 4}, {"x": 72, "y": 4.5}, {"x": 76, "y": 8}, {"x": 80, "y": 12}]}, "mark": {"type": "line", "color": "#e0281a", "strokeWidth": 1.2, "interpolate": "monotone"},
       "encoding": {"x": {"field": "x", "type": "quantitative"}, "y": {"field": "y", "type": "quantitative"}}},
      {"data": {"values": [{"x": 20, "y": 19, "t": "Rb"}, {"x": 58, "y": 18, "t": "Rct"}]}, "mark": {"type": "text", "fontSize": 7, "align": "left", "baseline": "middle"},
       "encoding": {"x": {"field": "x", "type": "quantitative"}, "y": {"field": "y", "type": "quantitative"}, "text": {"field": "t"}}},
      {"data": {"values": [{"x": 39, "y": 51, "t": "ω"}]}, "mark": {"type": "text", "fontSize": 11, "font": "DejaVu Serif", "align": "left", "baseline": "middle"},
       "encoding": {"x": {"field": "x", "type": "quantitative"}, "y": {"field": "y", "type": "quantitative"}, "text": {"field": "t"}}},
      {"data": {"values": [{"x": 37, "y": 51, "x2": 27, "y2": 51}]}, "mark": {"type": "rule", "strokeWidth": 1.5},
       "encoding": {"x": {"field": "x", "type": "quantitative"}, "y": {"field": "y", "type": "quantitative"}, "x2": {"field": "x2"}, "y2": {"field": "y2"}}},
      {"data": {"values": [{"x": 27, "y": 51}]}, "mark": {"type": "point", "shape": "triangle-left", "filled": true, "size": 18, "color": "#000", "opacity": 1},
       "encoding": {"x": {"field": "x", "type": "quantitative"}, "y": {"field": "y", "type": "quantitative"}}}
     ]}
    ],
    "resolve": {"scale": {"x": "independent", "y": "independent"}, "axis": {"x": "independent", "y": "independent"}}
   },
   {"width": 252, "height": 186,
    "layer": [
     {"data": {"name": "b"}, "mark": {"type": "line", "strokeWidth": 4.5, "interpolate": "catmull-rom"},
      "encoding": {
       "x": {"field": "x", "type": "quantitative", "scale": {"domain": [-0.04, 1.23], "nice": false, "zero": false}, "axis": {"values": [0,0.2,0.4,0.6,0.8,1,1.2], "tickCount": 40, "format": ".1f", "title": "Potential (V)", "titleFontSize": 12}},
       "y": {"field": "y", "type": "quantitative", "scale": {"domain": [-3.1, 3.2], "nice": false, "zero": false}, "axis": {"values": [-2.8,-2.1,-1.4,-0.7,0,0.7,1.4,2.1,2.8], "tickCount": 40, "format": ".1f", "title": "Currents (mA)", "titleFontSize": 12}},
       "color": {"field": "s", "type": "nominal", "scale": {"domain": ["0.2V","0.4V","0.6V","0.8V","1.0V","1.2V"], "range": ["#000000","#ff0000","#0000ff","#ff00ff","#0a7a0a","#33f0f0"]}, "legend": {"title": null, "orient": "none", "legendX": 195, "legendY": 108, "symbolType": "stroke", "symbolStrokeWidth": 2.5, "symbolSize": 64, "labelFontSize": 9, "rowPadding": 0}},
       "order": {"value": null}}},
     {"data": {"values": [{"x": -0.005, "y": 2.8, "t": "(b)"}]}, "mark": {"type": "text", "fontWeight": "bold", "fontSize": 16, "align": "left", "baseline": "middle"},
      "encoding": {"x": {"field": "x", "type": "quantitative"}, "y": {"field": "y", "type": "quantitative"}, "text": {"field": "t"}}},
     {"data": {"values": [{"x": 0.04, "y": 1.94, "t": "At 10mVs⁻¹ ,45°C"}]}, "mark": {"type": "text", "fontSize": 11, "align": "left", "baseline": "middle"},
      "encoding": {"x": {"field": "x", "type": "quantitative"}, "y": {"field": "y", "type": "quantitative"}, "text": {"field": "t"}}}
    ]}
  ], "spacing": 31, "resolve": {"scale": {"color": "independent", "shape": "independent"}, "legend": {"color": "independent", "shape": "independent"}}},
  {"hconcat": [
   {"width": 264, "height": 195,
    "layer": [
     {"data": {"name": "c"}, "mark": {"type": "line", "strokeWidth": 5, "interpolate": "catmull-rom"},
      "encoding": {
       "x": {"field": "x", "type": "quantitative", "scale": {"domain": [-0.1, 1.3], "nice": false, "zero": false}, "axis": {"values": [0,0.2,0.4,0.6,0.8,1,1.2], "tickCount": 40, "format": ".1f", "title": "Potential (V)", "titleFontSize": 14, "labelFontSize": 11}},
       "y": {"field": "y", "type": "quantitative", "scale": {"domain": [-8, 7], "nice": false, "zero": false}, "axis": {"values": [-8,-6,-4,-2,0,2,4,6], "tickCount": 40, "format": "d", "title": "Current (mA)", "titleFontSize": 14, "labelFontSize": 11}},
       "color": {"field": "s", "type": "nominal", "scale": {"domain": ["05","50","100"], "range": ["#f884f0","#7a0a5e","#8a2cf0"]}, "legend": {"title": null, "orient": "none", "legendX": 170, "legendY": 134, "symbolType": "stroke", "symbolStrokeWidth": 3, "symbolSize": 200, "labelFontSize": 13, "labelColor": "#1a1a60", "rowPadding": 0, "labelExpr": "datum.label + 'ᵗʰ cycle'"}},
       "order": {"value": null}}},
     {"data": {"values": [{"x": -0.07, "y": 5.8, "t": "(c)"}]}, "mark": {"type": "text", "fontWeight": "bold", "fontSize": 17, "align": "left", "baseline": "middle"},
      "encoding": {"x": {"field": "x", "type": "quantitative"}, "y": {"field": "y", "type": "quantitative"}, "text": {"field": "t"}}},
     {"data": {"values": [{"x": 0.53, "y": 6.2, "t": "At 100mVs⁻¹,45°C"}]}, "mark": {"type": "text", "fontSize": 10, "align": "left", "baseline": "middle"},
      "encoding": {"x": {"field": "x", "type": "quantitative"}, "y": {"field": "y", "type": "quantitative"}, "text": {"field": "t"}}}
    ]},
   {"width": 264, "height": 194,
    "layer": [
     {"data": {"name": "d"}, "mark": {"type": "line", "strokeWidth": 1.3},
      "encoding": {
       "x": {"field": "x", "type": "quantitative", "scale": {"domain": [-0.1, 1.4], "nice": false, "zero": false}, "axis": {"values": [0,0.2,0.4,0.6,0.8,1,1.2,1.4], "tickCount": 40, "format": ".1f", "title": "Potential (V)", "titleFontSize": 13}},
       "y": {"field": "y", "type": "quantitative", "scale": {"domain": [-8, 10], "nice": false, "zero": false}, "axis": {"values": [-8,-6,-4,-2,0,2,4,6,8,10], "tickCount": 40, "format": "d", "title": "Current (mA)", "titleFontSize": 14}},
       "color": {"field": "s", "type": "nominal", "scale": {"domain": ["1","3","5","7","10","30","50","70","90","200","500"], "range": ["#000000","#0000ff","#008000","#8000ff","#8b8000","#2e8b57","#20c090","#30d0b0","#9aaa30","#a05070","#2f6a9a"]}, "legend": {"title": null, "orient": "none", "legendX": 219, "legendY": 106, "symbolType": "stroke", "symbolStrokeWidth": 2, "symbolSize": 25, "labelFontSize": 6, "labelFontWeight": "bold", "rowPadding": -1, "labelExpr": "datum.label + 'mvs⁻¹'"}},
       "strokeWidth": {"condition": {"test": "datum.s == '7'", "value": 3}, "value": 1.3},
       "order": {"value": null}}},
     {"data": {"values": [{"x": -0.06, "y": 8.4, "t": "(d)"}]}, "mark": {"type": "text", "fontWeight": "bold", "fontSize": 17, "align": "left", "baseline": "middle"},
      "encoding": {"x": {"field": "x", "type": "quantitative"}, "y": {"field": "y", "type": "quantitative"}, "text": {"field": "t"}}}
    ]}
  ], "spacing": 25, "resolve": {"scale": {"color": "independent", "shape": "independent"}, "legend": {"color": "independent", "shape": "independent"}}}
 ], "columns": 1, "spacing": 19, "align": "none", "resolve": {"scale": {"color": "independent", "shape": "independent"}, "legend": {"color": "independent", "shape": "independent"}}},
 {"concat": [
  {"hconcat": [
   {"width": 241, "height": 179,
    "layer": [
     {"layer": [
      {"data": {"name": "e"}, "transform": [{"filter": "datum.g != 'j'"}], "mark": {"type": "line", "strokeWidth": 4},
       "encoding": {
        "x": {"field": "t", "type": "quantitative", "scale": {"domain": [0, 365], "nice": false, "zero": false}, "axis": {"values": [0,50,100,150,200,250,300,350], "tickCount": 40, "format": "d", "title": "Time (sec)", "titleFontSize": 14, "labelFontSize": 11}},
        "y": {"field": "v", "type": "quantitative", "scale": {"domain": [-0.1, 1.3], "nice": false, "zero": false}, "axis": {"values": [0,0.2,0.4,0.6,0.8,1,1.2], "tickCount": 40, "format": ".1f", "title": "Potential (V)", "titleFontSize": 14, "labelFontSize": 11}},
        "color": {"field": "s", "type": "nominal", "scale": {"domain": ["1.2","1v","0.9v","0.8v","0.7v","0.6v","0.5v","0.4v","0.2 v"], "range": ["#000000","#ff0000","#0000ff","#ff00ff","#008000","#000080","#8a2be2","#800080","#800000"]}, "legend": {"title": null, "orient": "none", "legendX": 6, "legendY": 3, "symbolType": "stroke", "symbolStrokeWidth": 2, "symbolSize": 16, "labelFontSize": 6, "rowPadding": -2.5}},
        "detail": {"field": "g"}}},
      {"data": {"name": "e"}, "transform": [{"filter": "datum.g == 'j'"}], "mark": {"type": "line", "strokeWidth": 0.8, "opacity": 0.6},
       "encoding": {
        "x": {"field": "t", "type": "quantitative"},
        "y": {"field": "v", "type": "quantitative"},
        "color": {"field": "s", "type": "nominal"}}},
      {"data": {"values": [{"x": 63, "y": 1.2, "t": "(e)"}]}, "mark": {"type": "text", "fontWeight": "bold", "fontSize": 15, "align": "left", "baseline": "middle"},
       "encoding": {"x": {"field": "x", "type": "quantitative"}, "y": {"field": "y", "type": "quantitative"}, "text": {"field": "t"}}},
      {"data": {"values": [{"x": 145, "y": 0.575, "t": "At 1mA"}]}, "mark": {"type": "text", "fontSize": 13, "align": "left", "baseline": "middle"},
       "encoding": {"x": {"field": "x", "type": "quantitative"}, "y": {"field": "y", "type": "quantitative"}, "text": {"field": "t"}}}
     ]},
     {"layer": [
      {"data": {"values": [{"x": 0, "x2": 1.3, "y": -3, "y2": 102}]}, "mark": {"type": "rect", "fill": "#fff", "stroke": "#000", "strokeWidth": 1},
       "encoding": {
        "x": {"field": "x", "type": "quantitative", "scale": {"domain": [0, 1.3], "range": [137, 238], "nice": false, "zero": false}, "axis": {"orient": "bottom", "offset": -102, "values": [0,0.3,0.6,0.9,1.2], "tickCount": 40, "format": ".1f", "title": "V (volts)", "labelFontSize": 5.5, "titleFontSize": 12, "tickSize": 2, "titlePadding": 2}},
        "x2": {"field": "x2"},
        "y": {"field": "y", "type": "quantitative", "scale": {"domain": [-3, 102], "range": [77, 2], "nice": false, "zero": false}, "axis": {"orient": "left", "offset": -137, "values": [0,20,40,60,80,100], "tickCount": 40, "format": "d", "title": "η (%)", "labelFontSize": 5.5, "titleFontSize": 10, "tickSize": 2, "titlePadding": 1}},
        "y2": {"field": "y2"}}},
      {"data": {"values": [{"x": 0.2, "y": 90}, {"x": 0.4, "y": 83}, {"x": 0.5, "y": 97}, {"x": 0.6, "y": 92}, {"x": 0.7, "y": 97}, {"x": 0.9, "y": 98}, {"x": 1.0, "y": 98}, {"x": 1.2, "y": 90}]}, "mark": {"type": "line", "color": "#000", "strokeWidth": 0.8, "point": {"filled": true, "size": 18, "color": "#000"}},
       "encoding": {"x": {"field": "x", "type": "quantitative"}, "y": {"field": "y", "type": "quantitative"}}}
     ]}
    ],
    "resolve": {"scale": {"x": "independent", "y": "independent"}, "axis": {"x": "independent", "y": "independent"}}
   },
   {"width": 247, "height": 188,
    "layer": [
     {"layer": [
      {"data": {"name": "f"}, "mark": {"type": "line", "strokeWidth": 2},
       "encoding": {
        "x": {"field": "t", "type": "quantitative", "scale": {"domain": [0, 358], "nice": false, "zero": false}, "axis": {"values": [0,50,100,150,200,250,300,350], "tickCount": 40, "format": "d", "title": "Time (sec)", "titleFontSize": 14, "labelFontSize": 11}},
        "y": {"field": "v", "type": "quantitative", "scale": {"domain": [0, 1.1], "nice": false, "zero": false}, "axis": {"values": [0,0.2,0.4,0.6,0.8,1], "tickCount": 40, "format": ".1f", "title": "Potential (V)", "titleFontSize": 14, "labelFontSize": 11}},
        "color": {"field": "c", "type": "nominal", "scale": {"domain": ["1","25","50","75","100","125","150","175","200","225","250","275","300","350","400","450","500"], "range": ["#000000","#ff0000","#0000ff","#ff00ff","#00c000","#000080","#a000c0","#800080","#a00030","#8b7a3a","#3a5a8a","#f4b8e8","#b8f0f0","#7fe87f","#40b0d0","#f0f0a0","#2020a0"]}, "legend": {"title": null, "orient": "none", "legendX": 100, "legendY": 45, "symbolType": "stroke", "symbolStrokeWidth": 2, "symbolSize": 9, "labelFontSize": 5, "rowPadding": -1}},
        "detail": {"field": "p"}}},
      {"data": {"values": [{"x": 9, "y": 1.0, "t": "(f)"}]}, "mark": {"type": "text", "fontWeight": "bold", "fontSize": 15, "align": "left", "baseline": "middle"},
       "encoding": {"x": {"field": "x", "type": "quantitative"}, "y": {"field": "y", "type": "quantitative"}, "text": {"field": "t"}}},
      {"data": {"values": [{"x": 204, "y": 0.94, "t": "At 1mA"}]}, "mark": {"type": "text", "fontSize": 11, "align": "left", "baseline": "middle"},
       "encoding": {"x": {"field": "x", "type": "quantitative"}, "y": {"field": "y", "type": "quantitative"}, "text": {"field": "t"}}}
     ]},
     {"layer": [
      {"data": {"values": [{"x": 0, "x2": 540, "y": 0, "y2": 101}]}, "mark": {"type": "rect", "fill": "#fff", "stroke": "#000", "strokeWidth": 1},
       "encoding": {
        "x": {"field": "x", "type": "quantitative", "scale": {"domain": [0, 540], "range": [151, 241], "nice": false, "zero": false}, "axis": {"orient": "bottom", "offset": -54, "values": [0,100,200,300,400,500], "tickCount": 40, "format": "d", "title": "cycle number", "labelFontSize": 8.5, "titleFontSize": 10, "tickSize": 3, "titlePadding": 2}},
        "x2": {"field": "x2"},
        "y": {"field": "y", "type": "quantitative", "scale": {"domain": [0, 101], "range": [134, 61], "nice": false, "zero": false}, "axis": {"orient": "left", "offset": -151, "values": [0,20,40,60,80,100], "tickCount": 40, "format": "d", "title": "η (%)", "labelFontSize": 8.5, "titleFontSize": 11, "tickSize": 3, "titlePadding": 1}},
        "y2": {"field": "y2"}}},
      {"data": {"values": [{"x": 10, "y": 95}, {"x": 25, "y": 96}, {"x": 50, "y": 96}, {"x": 75, "y": 97}, {"x": 100, "y": 97}, {"x": 125, "y": 97}, {"x": 150, "y": 97}, {"x": 175, "y": 98}, {"x": 200, "y": 98}, {"x": 225, "y": 96}, {"x": 250, "y": 97}, {"x": 275, "y": 98}, {"x": 300, "y": 94}, {"x": 350, "y": 98}, {"x": 400, "y": 98}, {"x": 450, "y": 98}, {"x": 500, "y": 98}]}, "mark": {"type": "line", "color": "#000", "strokeWidth": 0.8, "point": {"filled": false, "size": 10, "color": "#000"}},
       "encoding": {"x": {"field": "x", "type": "quantitative"}, "y": {"field": "y", "type": "quantitative"}}}
     ]}
    ],
    "resolve": {"scale": {"x": "independent", "y": "independent"}, "axis": {"x": "independent", "y": "independent"}}
   }
  ], "spacing": 37, "resolve": {"scale": {"color": "independent", "shape": "independent"}, "legend": {"color": "independent", "shape": "independent"}}},
  {"hconcat": [
   {"width": 249, "height": 186,
    "layer": [
     {"layer": [
      {"data": {"name": "g"}, "mark": {"type": "line", "color": "#1414e0", "strokeWidth": 2, "strokeDash": [5, 2]},
       "encoding": {
        "x": {"field": "x", "type": "quantitative", "scale": {"domain": [0, 552], "nice": false, "zero": false}, "axis": {"values": [0,100,200,300,400,500], "tickCount": 40, "format": "d", "title": "Cycle number", "titleFontSize": 11, "labelFontSize": 9}},
        "y": {"field": "y", "type": "quantitative", "scale": {"domain": [100, 650], "nice": false, "zero": false}, "axis": {"values": [100,150,200,250,300,350,400,450,500,550,600,650], "tickCount": 40, "format": "d", "title": "Cₛ (Fg⁻¹)", "titleFontSize": 12, "labelFontSize": 9}}}},
      {"data": {"name": "g"}, "mark": {"type": "point", "filled": true, "size": 50, "color": "#1414e0", "opacity": 1},
       "encoding": {"x": {"field": "x", "type": "quantitative"}, "y": {"field": "y", "type": "quantitative"}}},
      {"data": {"values": [{"x": 462, "y": 607, "t": "(g)"}]}, "mark": {"type": "text", "fontWeight": "bold", "fontSize": 17, "align": "left", "baseline": "middle"},
       "encoding": {"x": {"field": "x", "type": "quantitative"}, "y": {"field": "y", "type": "quantitative"}, "text": {"field": "t"}}},
      {"data": {"values": [{"x": 315, "y": 551, "t": "At 1mA, 45°C"}]}, "mark": {"type": "text", "fontSize": 10, "align": "left", "baseline": "middle"},
       "encoding": {"x": {"field": "x", "type": "quantitative"}, "y": {"field": "y", "type": "quantitative"}, "text": {"field": "t"}}}
     ]},
     {"layer": [
      {"data": {"values": [{"x": 0, "x2": 518, "y": 74, "y2": 200}]}, "mark": {"type": "rect", "fill": "#fff", "stroke": "#000", "strokeWidth": 1},
       "encoding": {
        "x": {"field": "x", "type": "quantitative", "scale": {"domain": [0, 518], "range": [31, 161], "nice": false, "zero": false}, "axis": {"orient": "bottom", "offset": -30, "values": [0,100,200,300,400,500], "tickCount": 40, "format": "d", "title": "cycle number", "labelFontSize": 8, "titleFontSize": 9, "tickSize": 3, "titlePadding": 2}},
        "x2": {"field": "x2"},
        "y": {"field": "y", "type": "quantitative", "scale": {"domain": [74, 200], "range": [156, 56], "nice": false, "zero": false}, "axis": {"orient": "left", "offset": -31, "values": [100,150,200], "tickCount": 40, "format": "d", "title": "ESR (Ωcm²)", "labelFontSize": 8, "titleFontSize": 9, "tickSize": 3, "titlePadding": 2}},
        "y2": {"field": "y2"}}},
      {"data": {"name": "gi"}, "mark": {"type": "line", "color": "#fff3b0", "strokeWidth": 9, "opacity": 0.9},
       "encoding": {"x": {"field": "x", "type": "quantitative"}, "y": {"field": "y", "type": "quantitative"}}},
      {"data": {"name": "gi"}, "mark": {"type": "line", "color": "#f07020", "strokeWidth": 1, "strokeDash": [3, 2]},
       "encoding": {"x": {"field": "x", "type": "quantitative"}, "y": {"field": "y", "type": "quantitative"}}},
      {"data": {"name": "gi"}, "mark": {"type": "point", "shape": "triangle-up", "filled": true, "size": 45, "color": "#f07020", "opacity": 1},
       "encoding": {"x": {"field": "x", "type": "quantitative"}, "y": {"field": "y", "type": "quantitative"}}}
     ]}
    ],
    "resolve": {"scale": {"x": "independent", "y": "independent"}, "axis": {"x": "independent", "y": "independent"}}
   },
   {"width": 258, "height": 190,
    "layer": [
     {"data": {"name": "h"}, "mark": {"type": "point", "filled": true, "size": 110, "opacity": 1},
      "encoding": {
       "x": {"field": "x", "type": "quantitative", "scale": {"type": "log", "domain": [1, 58], "nice": false}, "axis": {"values": [1,2,3,4,5,6,7,8,9,10,20,30,40,50], "tickCount": 40, "labelExpr": "datum.value == 1 || datum.value == 10 ? datum.value : ''", "title": "Eₛ (Whkg⁻¹)", "titleFontSize": 14, "labelFontSize": 9}},
       "y": {"field": "y", "type": "quantitative", "scale": {"type": "log", "domain": [100, 10000], "nice": false}, "axis": {"values": [100,200,300,400,500,600,700,800,900,1000,2000,3000,4000,5000,6000,7000,8000,9000,10000], "tickCount": 40, "labelExpr": "datum.value == 100 || datum.value == 1000 || datum.value == 10000 ? datum.value : ''", "title": "Pₛ (Wkg⁻¹)", "titleFontSize": 14, "labelFontSize": 9}},
       "color": {"field": "c", "type": "nominal", "scale": {"domain": ["SE-cell", "SL-cell"], "range": ["#ff1010", "#108810"]}, "legend": {"title": null, "orient": "none", "legendX": 178, "legendY": 8, "symbolSize": 140, "labelFontSize": 12, "rowPadding": 1}},
       "shape": {"field": "c", "type": "nominal", "scale": {"domain": ["SE-cell", "SL-cell"], "range": ["circle", "triangle-up"]}, "legend": {"title": null, "orient": "none", "legendX": 178, "legendY": 8, "symbolSize": 140, "labelFontSize": 12, "rowPadding": 1}}}},
     {"data": {"values": [{"x": 1.13, "y": 7300, "t": "(h)"}]}, "mark": {"type": "text", "fontWeight": "bold", "fontSize": 17, "align": "left", "baseline": "middle"},
      "encoding": {"x": {"field": "x", "type": "quantitative"}, "y": {"field": "y", "type": "quantitative"}, "text": {"field": "t"}}},
     {"data": {"values": [{"x": 1.45, "y": 1120, "t": "3mA"}, {"x": 3.8, "y": 4000, "t": "9mA"}, {"x": 25, "y": 324, "t": "0.6mA"}, {"x": 35, "y": 211, "t": "0.3mA"}]}, "mark": {"type": "text", "fontSize": 10, "align": "left", "baseline": "middle"},
      "encoding": {"x": {"field": "x", "type": "quantitative"}, "y": {"field": "y", "type": "quantitative"}, "text": {"field": "t"}}},
     {"data": {"values": [{"x": 1.52, "y": 960, "x2": 1.47, "y2": 850}, {"x": 4.3, "y": 3500, "x2": 4.65, "y2": 2750}, {"x": 24.5, "y": 300, "x2": 23.2, "y2": 268}, {"x": 34, "y": 198, "x2": 31.5, "y2": 182}]}, "mark": {"type": "rule", "strokeWidth": 0.8},
      "encoding": {"x": {"field": "x", "type": "quantitative"}, "y": {"field": "y", "type": "quantitative"}, "x2": {"field": "x2"}, "y2": {"field": "y2"}}}
    ]}
  ], "spacing": 26, "resolve": {"scale": {"color": "independent", "shape": "independent"}, "legend": {"color": "independent", "shape": "independent"}}}
 ], "columns": 1, "spacing": 14, "align": "none", "resolve": {"scale": {"color": "independent", "shape": "independent"}, "legend": {"color": "independent", "shape": "independent"}}}
],
"columns": 1,
"spacing": 35,
"align": "none"
}
